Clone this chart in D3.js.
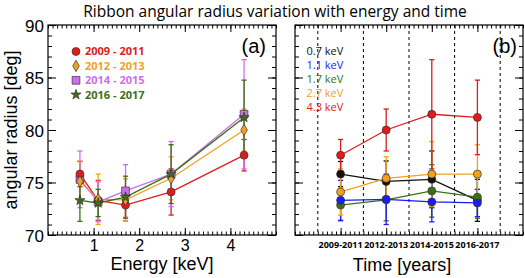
<!DOCTYPE html>
<html>
<head>
<meta charset="utf-8">
<script src="https://cdn.jsdelivr.net/npm/d3@7"></script>
<style>
  body { margin: 0; background: #fff; }
  svg { display: block; }
  .tick text { font-family: "Liberation Sans", Arial, sans-serif; }
</style>
</head>
<body>
<div id="chart"></div>
<script>
// data
var energies = [0.7, 1.1, 1.7, 2.7, 4.3];
var energyLabels = ['0.7 keV', '1.1 keV', '1.7 keV', '2.7 keV', '4.3 keV'];
var years = ['2009-2011', '2012-2013', '2014-2015', '2016-2017'];
var yearLabels = ['2009 - 2011', '2012 - 2013', '2014 - 2015', '2016 - 2017'];
var yearPos = [1, 2, 3, 4];
var dividers = [0.5, 1.5, 2.5, 3.5, 4.5];

// angular radius [deg], one row per time period, columns follow energies
var r2009 = [75.8, 73.3, 72.85, 74.1, 77.6];
var r2012 = [75.1, 73.4, 73.35, 75.4, 80.0];
var r2014 = [75.3, 73.15, 74.2, 75.8, 81.5];
var r2016 = [73.3, 73.05, 73.6, 75.8, 81.2];
// errors
var e2009 = [1.2, 1.9, 1.5, 2.2, 1.5];
var e2012 = [1.95, 2.4, 2.0, 2.05, 2.0];
var e2014 = [2.7, 1.9, 2.5, 3.1, 5.2];
var e2016 = [2.0, 1.3, 2.0, 2.8, 3.55];

var radius = [r2009, r2012, r2014, r2016];
var errors = [e2009, e2012, e2014, e2016];

var yearColors = ['#e01b1d', '#f0a21e', '#cc6fee', '#3b7114'];
var yearSymbols = [d3.symbolCircle, d3.symbolDiamond, d3.symbolSquare, d3.symbolStar];
var yearSizes = [50, 38, 60, 32];
var energyColors = ['#111111', '#1c1cf5', '#3b7114', '#f0a21e', '#e01b1d'];

var width = 525, height = 278;
var plotTop = 25, plotBottom = 235;
var panelA = {left: 48, right: 276};
var panelB = {left: 295, right: 523};

var svg = d3.select('#chart').append('svg')
    .attr('width', width)
    .attr('height', height);

var y = d3.scaleLinear().domain([70, 90]).range([plotBottom, plotTop]);
var xA = d3.scaleLinear().domain([0, 5]).range([panelA.left, panelA.right]);
var xB = d3.scaleLinear().domain([0, 5]).range([panelB.left, panelB.right]);

var minorX = d3.range(0, 51).map(function(d) { return d / 10; });
var minorY = d3.range(70, 91);

function frame(x, labelsX, labelsY) {
  var l = x.range()[0], r = x.range()[1];
  // minor ticks
  [[d3.axisBottom, plotBottom], [d3.axisTop, plotTop]].forEach(function(a) {
    svg.append('g').attr('transform', 'translate(0,' + a[1] + ')')
      .call(a[0](x).tickValues(minorX).tickSize(-3.5).tickFormat(''));
  });
  svg.append('g').attr('class', 'xmaj').attr('transform', 'translate(0,' + plotBottom + ')')
    .call(d3.axisBottom(x).tickValues([1, 2, 3, 4]).tickSize(-7).tickPadding(5)
      .tickFormat(labelsX ? d3.format('d') : ''));
  svg.append('g').attr('transform', 'translate(0,' + plotTop + ')')
    .call(d3.axisTop(x).tickValues([1, 2, 3, 4]).tickSize(-7).tickFormat(''));
  svg.append('g').attr('transform', 'translate(' + l + ',0)')
    .call(d3.axisLeft(y).tickValues(minorY).tickSize(-4).tickFormat(''));
  svg.append('g').attr('transform', 'translate(' + r + ',0)')
    .call(d3.axisRight(y).tickValues(minorY).tickSize(-4).tickFormat(''));
  svg.append('g').attr('class', 'ymaj').attr('transform', 'translate(' + l + ',0)')
    .call(d3.axisLeft(y).tickValues([70, 75, 80, 85, 90]).tickSize(-8).tickPadding(4)
      .tickFormat(labelsY ? d3.format('d') : ''));
  svg.append('g').attr('transform', 'translate(' + r + ',0)')
    .call(d3.axisRight(y).tickValues([70, 75, 80, 85, 90]).tickSize(-8).tickFormat(''));
  svg.selectAll('.domain').remove();
  svg.append('rect').attr('x', l).attr('y', plotTop)
    .attr('width', r - l).attr('height', plotBottom - plotTop)
    .attr('fill', 'none').attr('stroke', '#000').attr('stroke-width', 1.2);
}

frame(xA, true, true);
frame(xB, false, false);
svg.selectAll('.tick line').attr('stroke', '#000').attr('stroke-width', 1);
svg.selectAll('.xmaj text').style('font-size', '16px').attr('fill', '#000');
svg.selectAll('.ymaj text').style('font-size', '17px').attr('fill', '#000')
    .attr('dy', '0.36em');

// panel b year labels
svg.append('g').selectAll('text').data(years).enter().append('text')
    .attr('x', function(d, i) { return xB(yearPos[i]); })
    .attr('y', 248)
    .attr('text-anchor', 'middle')
    .style('font-family', '"Open Sans", sans-serif')
    .style('font-weight', 'bold')
    .style('font-size', '9px')
    .text(function(d) { return d; });

// dashed dividers
svg.append('g').selectAll('line').data(dividers).enter().append('line')
    .attr('x1', function(d) { return xB(d); })
    .attr('x2', function(d) { return xB(d); })
    .attr('y1', plotTop).attr('y2', plotBottom)
    .attr('stroke', '#000').attr('stroke-width', 1)
    .attr('stroke-dasharray', '3,3');

function errBars(g, xs, vals, errs, color) {
  vals.forEach(function(v, i) {
    var cx = xs[i];
    var y1 = y(v - errs[i]), y2 = y(v + errs[i]);
    g.append('line').attr('x1', cx).attr('x2', cx).attr('y1', y1).attr('y2', y2)
      .attr('stroke', color).attr('stroke-width', 1.3);
    [y1, y2].forEach(function(yy) {
      g.append('line').attr('x1', cx - 2.6).attr('x2', cx + 2.6).attr('y1', yy).attr('y2', yy)
        .attr('stroke', color).attr('stroke-width', 1.3);
    });
  });
}

var line = d3.line().x(function(d) { return d[0]; }).y(function(d) { return y(d[1]); });

// panel a: one series per time period
var gA = svg.append('g');
radius.forEach(function(vals, s) {
  var xs = energies.map(function(e) { return xA(e); });
  errBars(gA, xs, vals, errors[s], yearColors[s]);
  gA.append('path').datum(vals.map(function(v, i) { return [xs[i], v]; }))
    .attr('d', line).attr('fill', 'none')
    .attr('stroke', yearColors[s]).attr('stroke-width', 1.3);
});
[2, 0, 1, 3].forEach(function(s) {
  radius[s].forEach(function(v, i) {
    gA.append('path')
      .attr('d', d3.symbol().type(yearSymbols[s]).size(yearSizes[s])())
      .attr('transform', 'translate(' + xA(energies[i]) + ',' + y(v) + ')')
      .attr('fill', yearColors[s]).attr('stroke', '#333').attr('stroke-width', 0.7);
  });
});

// panel b: one series per energy
var gB = svg.append('g');
var orderB = [0, 2, 1, 3, 4];
orderB.forEach(function(k) {
  var vals = radius.map(function(row) { return row[k]; });
  var errs = errors.map(function(row) { return row[k]; });
  var xs = yearPos.map(function(p) { return xB(p); });
  errBars(gB, xs, vals, errs, energyColors[k]);
  gB.append('path').datum(vals.map(function(v, i) { return [xs[i], v]; }))
    .attr('d', line).attr('fill', 'none')
    .attr('stroke', energyColors[k]).attr('stroke-width', 1.3);
});
orderB.forEach(function(k) {
  radius.forEach(function(row, i) {
    gB.append('circle')
      .attr('cx', xB(yearPos[i])).attr('cy', y(row[k])).attr('r', 4)
      .attr('fill', energyColors[k]).attr('stroke', '#333').attr('stroke-width', 0.7);
  });
});

// legends
yearLabels.forEach(function(t, s) {
  var ly = 51.5 + s * 14.4;
  svg.append('path')
    .attr('d', d3.symbol().type(yearSymbols[s]).size(yearSizes[s])())
    .attr('transform', 'translate(76,' + ly + ')')
    .attr('fill', yearColors[s]).attr('stroke', '#333').attr('stroke-width', 0.7);
  svg.append('text').attr('x', 85).attr('y', ly).attr('dy', '0.36em')
    .style('font-family', '"Open Sans", sans-serif').style('font-weight', 'bold')
    .style('font-size', '11px').attr('fill', yearColors[s]).text(t);
});
energyLabels.forEach(function(t, k) {
  svg.append('text').attr('x', 306.5).attr('y', 50.7 + k * 14.2).attr('dy', '0.36em')
    .style('font-family', '"Open Sans", sans-serif')
    .style('font-size', '11px').attr('fill', energyColors[k]).text(t);
});

// panel tags
svg.append('text').attr('x', 266).attr('y', 53).attr('text-anchor', 'end')
  .style('font-family', '"Liberation Sans", Arial, sans-serif').style('font-size', '20px').text('(a)');
svg.append('text').attr('x', 517).attr('y', 53).attr('text-anchor', 'end')
  .style('font-family', '"Liberation Sans", Arial, sans-serif').style('font-size', '20px').text('(b)');

// titles
svg.append('text').attr('x', 275).attr('y', 17).attr('text-anchor', 'middle')
  .style('font-family', '"Open Sans", sans-serif').style('font-size', '15.5px')
  .text('Ribbon angular radius variation with energy and time');
svg.append('text').attr('x', 162).attr('y', 270).attr('text-anchor', 'middle')
  .style('font-family', '"Liberation Sans", Arial, sans-serif').style('font-size', '18px')
  .text('Energy [keV]');
svg.append('text').attr('x', 402).attr('y', 271).attr('text-anchor', 'middle')
  .style('font-family', '"Liberation Sans", Arial, sans-serif').style('font-size', '18px')
  .text('Time [years]');
svg.append('text')
  .attr('transform', 'translate(17,130) rotate(-90)')
  .attr('text-anchor', 'middle')
  .style('font-family', '"Liberation Sans", Arial, sans-serif').style('font-size', '18px')
  .text('angular radius [deg]');
</script>
</body>
</html>
